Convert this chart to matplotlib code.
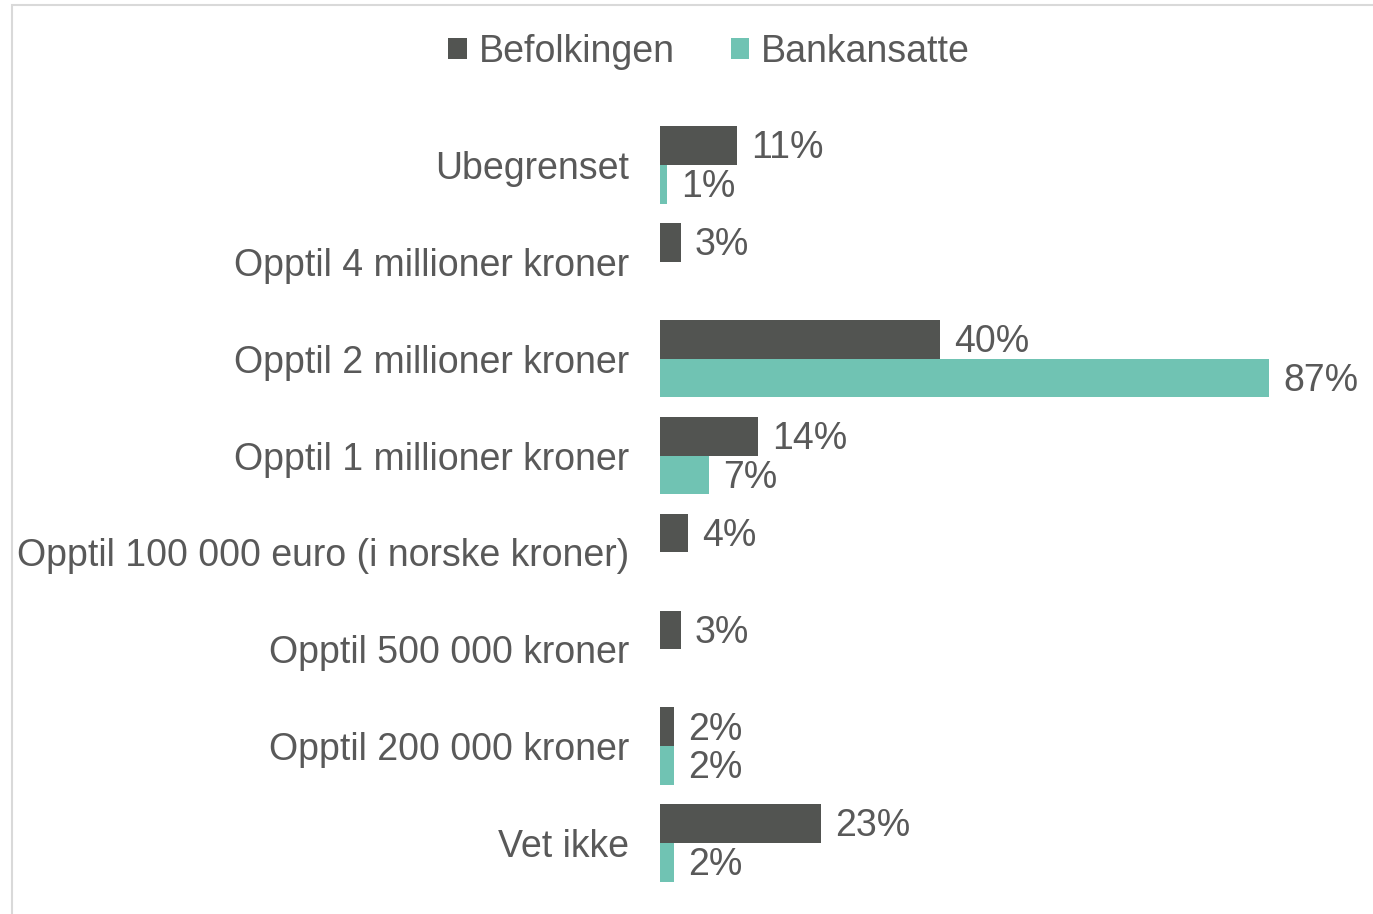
import numpy as np
import matplotlib.pyplot as plt
from matplotlib.patches import Rectangle

# survey answers, top to bottom
categories = [
    "Ubegrenset",
    "Opptil 4 millioner kroner",
    "Opptil 2 millioner kroner",
    "Opptil 1 millioner kroner",
    "Opptil 100 000 euro (i norske kroner)",
    "Opptil 500 000 kroner",
    "Opptil 200 000 kroner",
    "Vet ikke",
]
befolkingen = [11, 3, 40, 14, 4, 3, 2, 23]
bankansatte = [1, None, 87, 7, None, None, 2, 2]

col_bef = "#525451"
col_bank = "#70c3b3"
txt = "#595959"
fs = 27

plt.rcParams['font.family'] = ['Liberation Sans', 'DejaVu Sans']

fig = plt.figure(figsize=(13.73, 9.14), dpi=100)
W, H = 1373, 914
ax = fig.add_axes([660 / W, 1 - 891.5 / H, 700 / W, (891.5 - 116.5) / H])

y = np.arange(len(categories))
h = 0.4
bef = np.array(befolkingen, dtype=float)
bank = np.array([np.nan if v is None else v for v in bankansatte], dtype=float)

b1 = ax.barh(y - h / 2, bef, height=h, color=col_bef, label="Befolkingen")
b2 = ax.barh(y + h / 2, bank, height=h, color=col_bank, label="Bankansatte")

for bars, vals in ((b1, bef), (b2, bank)):
    for rect, v in zip(bars, vals):
        if np.isnan(v):
            continue
        ax.annotate(f"{int(v)}%", (v, rect.get_y() + rect.get_height() / 2),
                    xytext=(10, -2), textcoords="offset points",
                    ha="left", va="center", fontsize=fs, color=txt)

ax.set_xlim(0, 100)
ax.set_ylim(len(categories) - 0.5, -0.5)
ax.set_yticks(y)
ax.set_yticklabels(categories, fontsize=fs, color=txt)
ax.tick_params(axis="y", length=0, pad=22)
ax.set_xticks([])
for s in ax.spines.values():
    s.set_visible(False)

fig.legend(handles=[b1, b2], loc="center", bbox_to_anchor=(709 / W, 1 - 52 / H),
           ncol=2, frameon=False, fontsize=fs, labelcolor=txt,
           handlelength=0.5, handleheight=0.5, handletextpad=0.3, columnspacing=1.5)

# light chart-area border
fig.patches.append(Rectangle((12 / W, -0.02), 1.1, 1.02 - 5 / H, transform=fig.transFigure,
                             fill=False, edgecolor="#d9d9d9", linewidth=1.5))

plt.savefig("out.png", dpi=100)
